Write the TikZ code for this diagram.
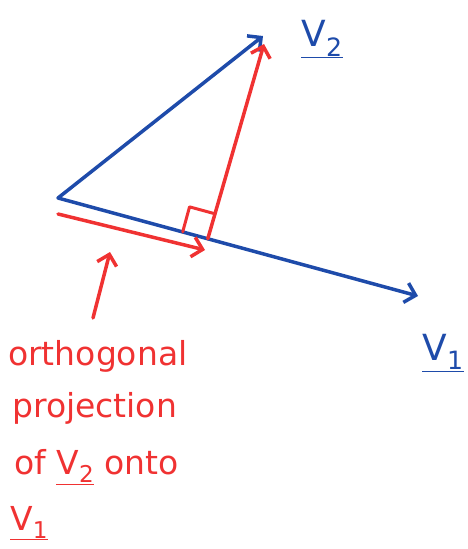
\documentclass[tikz,border=0pt]{standalone}
\usepackage{fontspec}
\setmainfont{DejaVu Sans}
\usetikzlibrary{arrows.meta,calc}
\definecolor{penblue}{RGB}{30,75,170}
\definecolor{penred}{RGB}{240,50,50}
\tikzset{
  vec/.style={line width=3.5pt,line cap=round,line join=round,-{Straight Barb[length=10pt,width=20pt]}},
  caption/.style={anchor=base west,inner sep=0pt,text=penred,font=\fontsize{33}{40}\selectfont},
  vlabel/.style={inner sep=0pt,text=penblue,font=\fontsize{36}{42}\selectfont}
}
\begin{document}
\begin{tikzpicture}[x=1pt,y=-1pt,line cap=round,line join=round]
	\useasboundingbox (0,0) rectangle (468,549);
	\path (58,198) coordinate (O)
	      (263,36) coordinate (V2)
	      (418,296) coordinate (V1);
	\coordinate (F) at ($(O)!(V2)!(V1)$); % foot of the perpendicular
	\draw[vec,penblue] (O)--(V2);
	\draw[vec,penblue] (O)--(V1);
	\draw[vec,penred] (F)--($(V2)+(1,8)$);
	\draw[penred,line width=3pt] ($(F)!26pt!(O)$) -- ($(F)!26pt!(O)+(F)!26pt!(V2)-(F)$) -- ($(F)!26pt!(V2)$);
	\path (58,214) coordinate (P0) (205,250) coordinate (P1);
	\draw[vec,penred] (P0)--(P1);
	\node[vlabel,anchor=base] (labV2) at (322,46) {\underline{V\textsubscript{2}}};
	\node[vlabel,anchor=base] (labV1) at (443,360) {\underline{V\textsubscript{1}}};
	\foreach \t/\x/\y [count=\i] in {orthogonal/8/365,projection/12/417,{of \underline{V\textsubscript{2}} onto}/14/474,\underline{V\textsubscript{1}}/10/530}
		{\node[caption] (cap\i) at (\x,\y) {\t};}
	\coordinate (tail) at (93,318);
	\coordinate (tip) at (110,252);
	\draw[vec,penred] (tail)--(tip);
\end{tikzpicture}
\end{document}
